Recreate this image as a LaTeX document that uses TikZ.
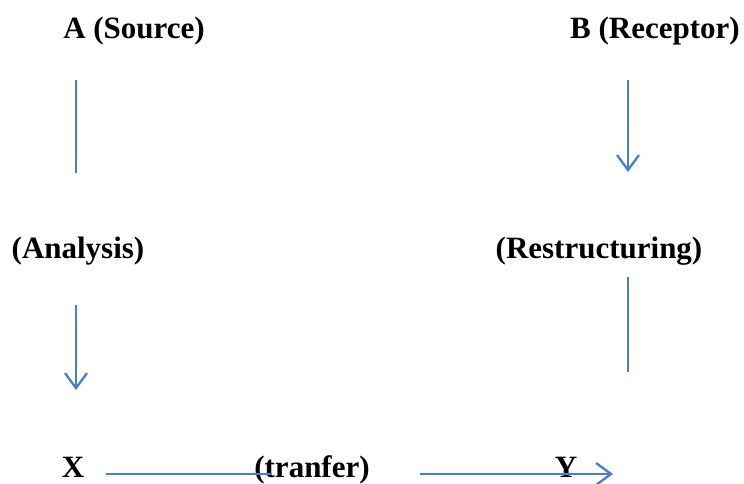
\documentclass[tikz,border=0pt]{standalone}
\usepackage{fontspec}
\setmainfont{Liberation Serif}
\usetikzlibrary{arrows.meta}
\definecolor{lineblue}{RGB}{74,126,193}
\begin{document}
\begin{tikzpicture}[x=1pt,y=-1pt,
  lbl/.style={font=\fontsize{31}{36}\selectfont\bfseries, inner sep=0pt, anchor=base},
  conn/.style={draw=lineblue, line width=2.3pt},
  arr/.style={conn, -{Straight Barb[length=15pt,width=22pt,line width=2.3pt]}}]
\useasboundingbox (0,0) rectangle (744,484);
\node[lbl] (A) at (134,39) {A (Source)};
\node[lbl] (B) at (655,39) {B (Receptor)};
\node[lbl] (An) at (78,258) {(Analysis)};
\node[lbl] (R) at (599,258) {(Restructuring)};
\node[lbl] (X) at (73,477) {X};
\node[lbl] (T) at (312,477) {(tranfer)};
\node[lbl] (Y) at (566,477) {Y};
\coordinate (a1) at (76,80);  \coordinate (a2) at (76,173);
\coordinate (b1) at (628,80); \coordinate (b2) at (628,172);
\coordinate (c1) at (76,305); \coordinate (c2) at (76,390);
\coordinate (d1) at (628,277); \coordinate (d2) at (628,372);
\coordinate (e1) at (106,474); \coordinate (e2) at (272,474);
\coordinate (f1) at (420,474); \coordinate (f2) at (613,474);
\draw[conn] (a1) -- (a2);
\draw[arr] (b1) -- (b2);
\draw[arr] (c1) -- (c2);
\draw[conn] (d1) -- (d2);
\draw[conn, line width=1.6pt] (e1) -- (e2);
\draw[arr] (f1) -- (f2);
\end{tikzpicture}
\end{document}
